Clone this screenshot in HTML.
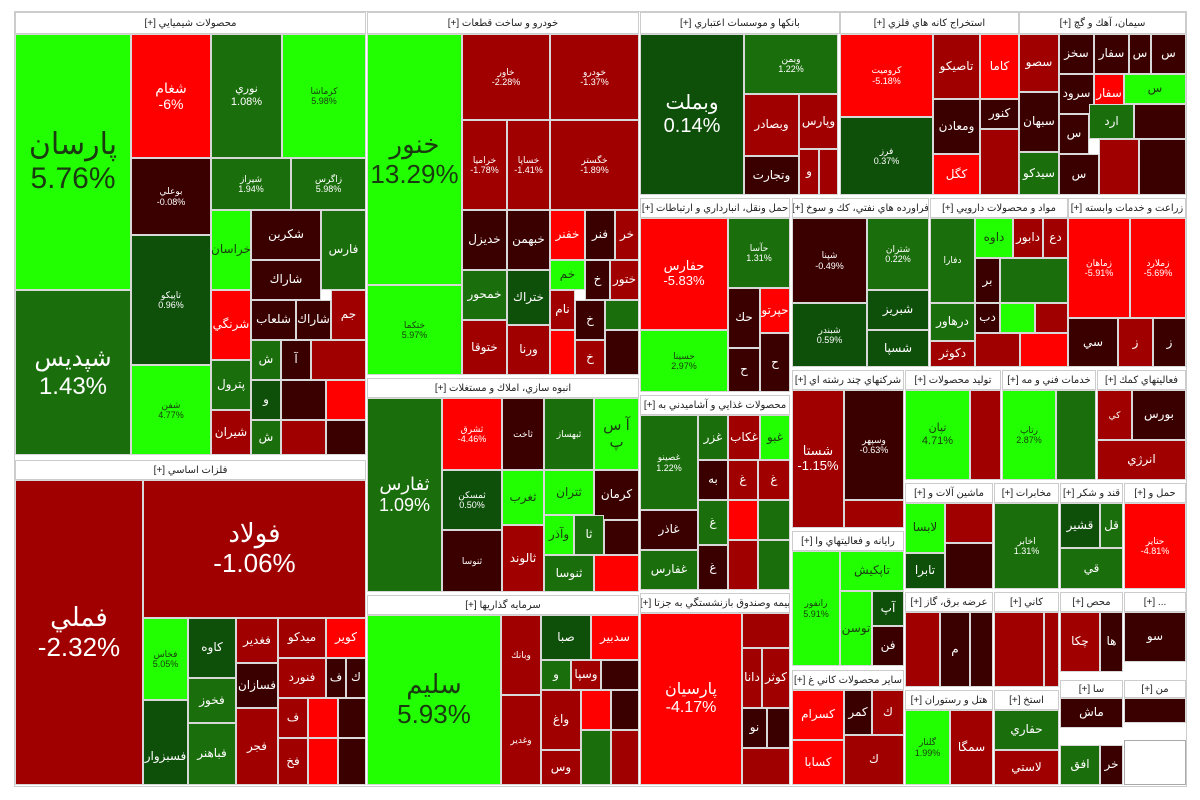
<!DOCTYPE html>
<html><head><meta charset="utf-8"><style>
body{margin:0;width:1200px;height:800px;background:#fff;position:relative;overflow:hidden;font-family:"Liberation Sans","DejaVu Sans",sans-serif}
div.t{position:absolute;box-sizing:border-box;border:1px solid #d8d8d8;display:flex;align-items:center;justify-content:center;text-align:center;color:#fff;font-size:12px;line-height:1.15;overflow:hidden;direction:ltr}
.h{position:absolute;box-sizing:border-box;border:1px solid #ccc;background:#fff;color:#222;font-size:10px;display:flex;align-items:center;justify-content:center;direction:rtl;overflow:hidden;white-space:nowrap}
div.g{background:#22ff00;color:#1a3a10}div.d{background:#1b6e0c}div.dd{background:#0e4f0a}div.r{background:#ff0000}div.k{background:#a00000}div.m{background:#3a0000}
div.L{font-size:28px}div.M{font-size:18px}div.S{font-size:9px}
</style></head><body>
<div style="position:absolute;left:14px;top:11px;width:1173px;height:776px;border:1px solid #ccc;box-sizing:border-box"></div>
<!-- Chemicals -->
<div class="h" style="left:15px;top:12px;width:351px;height:22px">محصولات شيميايي [+]</div>
<div class="t g L" style="left:15px;top:34px;width:116px;height:256px;font-size:30px">پارسان<br>5.76%</div>
<div class="t d L" style="left:15px;top:290px;width:116px;height:165px;font-size:24px">شپدیس<br>1.43%</div>
<div class="t r" style="left:131px;top:34px;width:80px;height:124px;font-size:14px">شغام<br>-6%</div>
<div class="t d" style="left:211px;top:34px;width:71px;height:124px;font-size:11px">نوري<br>1.08%</div>
<div class="t g S" style="left:282px;top:34px;width:84px;height:124px">كرماشا<br>5.98%</div>
<div class="t m S" style="left:131px;top:158px;width:80px;height:77px">بوعلي<br>-0.08%</div>
<div class="t d S" style="left:211px;top:158px;width:80px;height:52px">شيراز<br>1.94%</div>
<div class="t d S" style="left:291px;top:158px;width:75px;height:52px">زاگرس<br>5.98%</div>
<div class="t dd S" style="left:131px;top:235px;width:80px;height:130px">تاپيكو<br>0.96%</div>
<div class="t g S" style="left:131px;top:365px;width:80px;height:90px">شفن<br>4.77%</div>
<div class="t g" style="left:211px;top:210px;width:40px;height:80px">خراسان</div>
<div class="t m" style="left:251px;top:210px;width:70px;height:50px">شكربن</div>
<div class="t d" style="left:321px;top:210px;width:45px;height:80px">فارس</div>
<div class="t r" style="left:211px;top:290px;width:40px;height:70px">شرنگي</div>
<div class="t m" style="left:251px;top:260px;width:70px;height:40px">شاراك</div>
<div class="t m" style="left:251px;top:300px;width:45px;height:40px">شلعاب</div>
<div class="t m" style="left:296px;top:300px;width:35px;height:40px">شاراك</div>
<div class="t k" style="left:331px;top:290px;width:35px;height:50px">جم</div>
<div class="t d" style="left:211px;top:360px;width:40px;height:50px">پترول</div>
<div class="t k" style="left:211px;top:410px;width:40px;height:45px">شيران</div>
<div class="t d" style="left:251px;top:340px;width:30px;height:40px">ش</div>
<div class="t m" style="left:281px;top:340px;width:30px;height:40px">آ</div>
<div class="t k" style="left:311px;top:340px;width:55px;height:40px"></div>
<div class="t dd" style="left:251px;top:380px;width:30px;height:40px">و</div>
<div class="t m" style="left:281px;top:380px;width:45px;height:40px"></div>
<div class="t r" style="left:326px;top:380px;width:40px;height:40px"></div>
<div class="t d" style="left:251px;top:420px;width:30px;height:35px">ش</div>
<div class="t k" style="left:281px;top:420px;width:45px;height:35px"></div>
<div class="t m" style="left:326px;top:420px;width:40px;height:35px"></div>
<!-- Metals -->
<div class="h" style="left:15px;top:460px;width:351px;height:20px">فلزات اساسي [+]</div>
<div class="t k L" style="left:15px;top:480px;width:128px;height:305px;font-size:26px">فملي<br>-2.32%</div>
<div class="t k L" style="left:143px;top:480px;width:223px;height:138px;font-size:26px">فولاد<br>-1.06%</div>
<div class="t g S" style="left:143px;top:618px;width:45px;height:82px">فخاس<br>5.05%</div>
<div class="t dd" style="left:188px;top:618px;width:48px;height:60px">كاوه</div>
<div class="t d" style="left:188px;top:678px;width:48px;height:45px">فخوز</div>
<div class="t d" style="left:188px;top:723px;width:48px;height:62px">فباهنر</div>
<div class="t dd" style="left:143px;top:700px;width:45px;height:85px;align-items:flex-end;padding-bottom:20px">فسبزوار</div>
<div class="t k" style="left:236px;top:618px;width:42px;height:45px">فغدير</div>
<div class="t m" style="left:236px;top:663px;width:42px;height:45px">فسازان</div>
<div class="t k" style="left:236px;top:708px;width:42px;height:77px">فجر</div>
<div class="t k" style="left:278px;top:618px;width:48px;height:40px">ميدكو</div>
<div class="t r" style="left:326px;top:618px;width:40px;height:40px">كوير</div>
<div class="t k" style="left:278px;top:658px;width:48px;height:40px">فنورد</div>
<div class="t m" style="left:326px;top:658px;width:20px;height:40px">ف</div>
<div class="t m" style="left:346px;top:658px;width:20px;height:40px">ك</div>
<div class="t k" style="left:278px;top:698px;width:30px;height:40px">ف</div>
<div class="t r" style="left:308px;top:698px;width:30px;height:40px"></div>
<div class="t m" style="left:338px;top:698px;width:28px;height:40px"></div>
<div class="t k" style="left:278px;top:738px;width:30px;height:47px">فخ</div>
<div class="t r" style="left:308px;top:738px;width:30px;height:47px"></div>
<div class="t m" style="left:338px;top:738px;width:28px;height:47px"></div>
<!-- Auto -->
<div class="h" style="left:367px;top:12px;width:272px;height:22px">خودرو و ساخت قطعات [+]</div>
<div class="t g L" style="left:367px;top:34px;width:95px;height:251px;font-size:26px">خنور<br>13.29%</div>
<div class="t g S" style="left:367px;top:285px;width:95px;height:90px">ختكما<br>5.97%</div>
<div class="t k S" style="left:462px;top:34px;width:88px;height:86px">خاور<br>-2.28%</div>
<div class="t k S" style="left:550px;top:34px;width:89px;height:86px">خودرو<br>-1.37%</div>
<div class="t k S" style="left:462px;top:120px;width:45px;height:90px">خراميا<br>-1.78%</div>
<div class="t k S" style="left:507px;top:120px;width:43px;height:90px">خساپا<br>-1.41%</div>
<div class="t k S" style="left:550px;top:120px;width:89px;height:90px">خگستر<br>-1.89%</div>
<div class="t m" style="left:462px;top:210px;width:45px;height:60px">خديزل</div>
<div class="t m" style="left:507px;top:210px;width:43px;height:60px">خبهمن</div>
<div class="t r" style="left:550px;top:210px;width:35px;height:50px">خفنر</div>
<div class="t m" style="left:585px;top:210px;width:30px;height:50px">فنر</div>
<div class="t k" style="left:615px;top:210px;width:24px;height:50px">خر</div>
<div class="t d" style="left:462px;top:270px;width:45px;height:50px">خمحور</div>
<div class="t dd" style="left:507px;top:270px;width:43px;height:55px">ختراك</div>
<div class="t k" style="left:462px;top:320px;width:45px;height:55px">ختوقا</div>
<div class="t k" style="left:507px;top:325px;width:43px;height:50px">ورنا</div>
<div class="t g" style="left:550px;top:260px;width:35px;height:30px">خم</div>
<div class="t m" style="left:585px;top:260px;width:25px;height:40px">خ</div>
<div class="t k" style="left:610px;top:260px;width:29px;height:40px">ختور</div>
<div class="t k" style="left:550px;top:290px;width:25px;height:40px">نام</div>
<div class="t m" style="left:575px;top:300px;width:30px;height:40px">خ</div>
<div class="t d" style="left:605px;top:300px;width:34px;height:30px"></div>
<div class="t r" style="left:550px;top:330px;width:25px;height:45px"></div>
<div class="t k" style="left:575px;top:340px;width:30px;height:35px">خ</div>
<div class="t m" style="left:605px;top:330px;width:34px;height:45px"></div>
<!-- Construction -->
<div class="h" style="left:367px;top:378px;width:272px;height:20px">انبوه سازي، املاك و مستغلات [+]</div>
<div class="t d M" style="left:367px;top:398px;width:75px;height:194px">ثفارس<br>1.09%</div>
<div class="t r S" style="left:442px;top:398px;width:60px;height:72px">ثشرق<br>-4.46%</div>
<div class="t m S" style="left:502px;top:398px;width:42px;height:72px">ثاخت</div>
<div class="t d S" style="left:544px;top:398px;width:50px;height:72px">ثبهساز</div>
<div class="t g M" style="left:594px;top:398px;width:45px;height:72px;font-size:15px">آ س پ</div>
<div class="t dd S" style="left:442px;top:470px;width:60px;height:60px">ثمسكن<br>0.50%</div>
<div class="t m S" style="left:442px;top:530px;width:60px;height:62px">ثنوسا</div>
<div class="t g" style="left:502px;top:470px;width:42px;height:55px">ثغرب</div>
<div class="t k" style="left:502px;top:525px;width:42px;height:67px">ثالوند</div>
<div class="t g" style="left:544px;top:470px;width:50px;height:45px">ثتران</div>
<div class="t m" style="left:594px;top:470px;width:45px;height:50px">كرمان</div>
<div class="t g" style="left:544px;top:515px;width:30px;height:40px">وآذر</div>
<div class="t d" style="left:574px;top:515px;width:30px;height:40px">ثا</div>
<div class="t m" style="left:604px;top:520px;width:35px;height:35px"></div>
<div class="t d" style="left:544px;top:555px;width:50px;height:37px">ثنوسا</div>
<div class="t r" style="left:594px;top:555px;width:45px;height:37px"></div>
<!-- Investment -->
<div class="h" style="left:367px;top:595px;width:272px;height:20px">سرمايه گذاريها [+]</div>
<div class="t g L" style="left:367px;top:615px;width:134px;height:170px;font-size:26px">سليم<br>5.93%</div>
<div class="t k S" style="left:501px;top:615px;width:40px;height:80px">وبانك</div>
<div class="t dd" style="left:541px;top:615px;width:50px;height:45px">صبا</div>
<div class="t r" style="left:591px;top:615px;width:48px;height:45px">سدبير</div>
<div class="t d" style="left:541px;top:660px;width:30px;height:30px">و</div>
<div class="t k" style="left:571px;top:660px;width:30px;height:30px">وسپا</div>
<div class="t m" style="left:601px;top:660px;width:38px;height:30px"></div>
<div class="t k S" style="left:501px;top:695px;width:40px;height:90px">وغدير</div>
<div class="t k" style="left:541px;top:690px;width:40px;height:60px">واغ</div>
<div class="t r" style="left:581px;top:690px;width:30px;height:40px"></div>
<div class="t m" style="left:611px;top:690px;width:28px;height:40px"></div>
<div class="t k" style="left:541px;top:750px;width:40px;height:35px">وس</div>
<div class="t d" style="left:581px;top:730px;width:30px;height:55px"></div>
<div class="t k" style="left:611px;top:730px;width:28px;height:55px"></div>
<!-- Banks -->
<div class="h" style="left:640px;top:12px;width:200px;height:22px">بانكها و موسسات اعتباري [+]</div>
<div class="t dd L" style="left:640px;top:34px;width:104px;height:161px;font-size:20px">وبملت<br>0.14%</div>
<div class="t d S" style="left:744px;top:34px;width:94px;height:60px">وبمن<br>1.22%</div>
<div class="t k" style="left:744px;top:94px;width:55px;height:62px">وبصادر</div>
<div class="t k" style="left:799px;top:94px;width:39px;height:55px">وپارس</div>
<div class="t m" style="left:744px;top:156px;width:55px;height:39px">وتجارت</div>
<div class="t k" style="left:799px;top:149px;width:20px;height:46px">و</div>
<div class="t k" style="left:819px;top:149px;width:19px;height:46px"></div>
<!-- Mining -->
<div class="h" style="left:840px;top:12px;width:179px;height:22px">استخراج كانه هاي فلزي [+]</div>
<div class="t r S" style="left:840px;top:34px;width:93px;height:83px">كروميت<br>-5.18%</div>
<div class="t dd S" style="left:840px;top:117px;width:93px;height:78px">فرز<br>0.37%</div>
<div class="t k" style="left:933px;top:34px;width:47px;height:65px">تاصيكو</div>
<div class="t r" style="left:980px;top:34px;width:39px;height:65px">كاما</div>
<div class="t m" style="left:933px;top:99px;width:47px;height:55px">ومعادن</div>
<div class="t m" style="left:980px;top:99px;width:39px;height:30px">كنور</div>
<div class="t r" style="left:933px;top:154px;width:47px;height:41px">كگل</div>
<div class="t k" style="left:980px;top:129px;width:39px;height:66px"></div>
<!-- Cement -->
<div class="h" style="left:1019px;top:12px;width:167px;height:22px">سيمان، آهك و گچ [+]</div>
<div class="t k" style="left:1019px;top:34px;width:40px;height:58px">سصو</div>
<div class="t m" style="left:1059px;top:34px;width:35px;height:40px">سخز</div>
<div class="t m" style="left:1094px;top:34px;width:35px;height:40px">سفار</div>
<div class="t m" style="left:1129px;top:34px;width:22px;height:40px">س</div>
<div class="t m" style="left:1151px;top:34px;width:35px;height:40px">س</div>
<div class="t m" style="left:1019px;top:92px;width:40px;height:60px">سبهان</div>
<div class="t d" style="left:1019px;top:152px;width:40px;height:43px">سيدكو</div>
<div class="t m" style="left:1059px;top:74px;width:35px;height:40px">سرود</div>
<div class="t r" style="left:1094px;top:74px;width:30px;height:40px">سفار</div>
<div class="t g" style="left:1124px;top:74px;width:62px;height:30px">س</div>
<div class="t m" style="left:1059px;top:114px;width:30px;height:40px">س</div>
<div class="t d" style="left:1089px;top:104px;width:45px;height:35px">ارد</div>
<div class="t m" style="left:1134px;top:104px;width:52px;height:35px"></div>
<div class="t m" style="left:1059px;top:154px;width:40px;height:41px">س</div>
<div class="t k" style="left:1099px;top:139px;width:40px;height:56px"></div>
<div class="t m" style="left:1139px;top:139px;width:47px;height:56px"></div>
<!-- Transport -->
<div class="h" style="left:640px;top:198px;width:150px;height:20px">حمل ونقل، انبارداري و ارتباطات [+]</div>
<div class="t r" style="left:640px;top:218px;width:88px;height:112px;font-size:13px">حفارس<br>-5.83%</div>
<div class="t g S" style="left:640px;top:330px;width:88px;height:62px">حسينا<br>2.97%</div>
<div class="t d S" style="left:728px;top:218px;width:62px;height:70px">حآسا<br>1.31%</div>
<div class="t m" style="left:728px;top:288px;width:32px;height:60px">حك</div>
<div class="t r" style="left:760px;top:288px;width:30px;height:45px">حپرتو</div>
<div class="t m" style="left:728px;top:348px;width:32px;height:44px">ح</div>
<div class="t m" style="left:760px;top:333px;width:30px;height:59px">ح</div>
<!-- Oil -->
<div class="h" style="left:792px;top:198px;width:137px;height:20px">فراورده هاي نفتي، كك و سوخ [+]</div>
<div class="t m S" style="left:792px;top:218px;width:75px;height:85px">شپنا<br>-0.49%</div>
<div class="t dd S" style="left:792px;top:303px;width:75px;height:64px">شبندر<br>0.59%</div>
<div class="t d S" style="left:867px;top:218px;width:62px;height:72px">شتران<br>0.22%</div>
<div class="t dd" style="left:867px;top:290px;width:62px;height:40px">شبريز</div>
<div class="t dd" style="left:867px;top:330px;width:62px;height:37px">شسپا</div>
<!-- Pharma -->
<div class="h" style="left:930px;top:198px;width:138px;height:20px">مواد و محصولات دارويي [+]</div>
<div class="t d S" style="left:930px;top:218px;width:45px;height:85px">دفارا</div>
<div class="t g" style="left:975px;top:218px;width:38px;height:40px">داوه</div>
<div class="t k" style="left:1013px;top:218px;width:30px;height:40px">دابور</div>
<div class="t k" style="left:1043px;top:218px;width:25px;height:40px">دع</div>
<div class="t m" style="left:975px;top:258px;width:25px;height:45px">بر</div>
<div class="t d" style="left:1000px;top:258px;width:68px;height:45px"></div>
<div class="t d" style="left:930px;top:303px;width:45px;height:38px">درهاور</div>
<div class="t k" style="left:930px;top:341px;width:45px;height:26px">دكوثر</div>
<div class="t m" style="left:975px;top:303px;width:25px;height:30px">دب</div>
<div class="t g" style="left:1000px;top:303px;width:35px;height:30px"></div>
<div class="t k" style="left:1035px;top:303px;width:33px;height:30px"></div>
<div class="t k" style="left:975px;top:333px;width:45px;height:34px"></div>
<div class="t r" style="left:1020px;top:333px;width:48px;height:34px"></div>
<!-- Agri -->
<div class="h" style="left:1068px;top:198px;width:118px;height:20px">زراعت و خدمات وابسته [+]</div>
<div class="t r S" style="left:1068px;top:218px;width:62px;height:100px">زماهان<br>-5.91%</div>
<div class="t r S" style="left:1130px;top:218px;width:56px;height:100px">زملارد<br>-5.69%</div>
<div class="t m" style="left:1068px;top:318px;width:50px;height:49px">سي</div>
<div class="t k" style="left:1118px;top:318px;width:35px;height:49px">ز</div>
<div class="t m" style="left:1153px;top:318px;width:33px;height:49px">ز</div>
<!-- Food -->
<div class="h" style="left:640px;top:395px;width:150px;height:20px">محصولات غذايي و آشاميدني به [+]</div>
<div class="t d S" style="left:640px;top:415px;width:58px;height:95px">غصينو<br>1.22%</div>
<div class="t m" style="left:640px;top:510px;width:58px;height:40px">غاذر</div>
<div class="t d" style="left:640px;top:550px;width:58px;height:40px">غفارس</div>
<div class="t d" style="left:698px;top:415px;width:30px;height:45px">غزر</div>
<div class="t k" style="left:728px;top:415px;width:32px;height:45px">غكاب</div>
<div class="t g" style="left:760px;top:415px;width:30px;height:45px">غبو</div>
<div class="t m" style="left:698px;top:460px;width:30px;height:40px">به</div>
<div class="t k" style="left:728px;top:460px;width:30px;height:40px">غ</div>
<div class="t k" style="left:758px;top:460px;width:32px;height:40px">غ</div>
<div class="t d" style="left:698px;top:500px;width:30px;height:45px">غ</div>
<div class="t r" style="left:728px;top:500px;width:30px;height:40px"></div>
<div class="t d" style="left:758px;top:500px;width:32px;height:40px"></div>
<div class="t m" style="left:698px;top:545px;width:30px;height:45px">غ</div>
<div class="t k" style="left:728px;top:540px;width:30px;height:50px"></div>
<div class="t d" style="left:758px;top:540px;width:32px;height:50px"></div>
<!-- Insurance -->
<div class="h" style="left:640px;top:593px;width:150px;height:20px">بيمه وصندوق بازنشستگي به جزتا [+]</div>
<div class="t r M" style="left:640px;top:613px;width:102px;height:172px;font-size:16px">پارسيان<br>-4.17%</div>
<div class="t k" style="left:742px;top:613px;width:48px;height:35px"></div>
<div class="t k" style="left:742px;top:648px;width:20px;height:60px">دانا</div>
<div class="t k" style="left:762px;top:648px;width:28px;height:60px">كوثر</div>
<div class="t m" style="left:742px;top:708px;width:25px;height:40px">نو</div>
<div class="t m" style="left:767px;top:708px;width:23px;height:40px"></div>
<div class="t k" style="left:742px;top:748px;width:48px;height:37px"></div>
<!-- Multi -->
<div class="h" style="left:792px;top:370px;width:112px;height:20px">شركتهاي چند رشته اي [+]</div>
<div class="t k" style="left:792px;top:390px;width:52px;height:138px;font-size:13px">شستا<br>-1.15%</div>
<div class="t m S" style="left:844px;top:390px;width:60px;height:110px">وسپهر<br>-0.63%</div>
<div class="t k" style="left:844px;top:500px;width:60px;height:28px"></div>
<div class="h" style="left:905px;top:370px;width:96px;height:20px">توليد محصولات [+]</div>
<div class="t g" style="left:905px;top:390px;width:65px;height:90px;font-size:11px">تپان<br>4.71%</div>
<div class="t k" style="left:970px;top:390px;width:31px;height:90px"></div>
<div class="h" style="left:1002px;top:370px;width:94px;height:20px">خدمات فني و مه [+]</div>
<div class="t g S" style="left:1002px;top:390px;width:54px;height:90px">رتاپ<br>2.87%</div>
<div class="t d S" style="left:1056px;top:390px;width:40px;height:90px"></div>
<div class="h" style="left:1097px;top:370px;width:89px;height:20px">فعاليتهاي كمك [+]</div>
<div class="t k S" style="left:1097px;top:390px;width:35px;height:50px">كي</div>
<div class="t m" style="left:1132px;top:390px;width:54px;height:50px">بورس</div>
<div class="t k" style="left:1097px;top:440px;width:89px;height:40px">انرژي</div>
<!-- row 3 right -->
<div class="h" style="left:905px;top:483px;width:88px;height:20px">ماشين آلات و [+]</div>
<div class="t g" style="left:905px;top:503px;width:40px;height:50px">لابسا</div>
<div class="t dd" style="left:905px;top:553px;width:40px;height:36px">تابرا</div>
<div class="t k" style="left:945px;top:503px;width:48px;height:40px"></div>
<div class="t m" style="left:945px;top:543px;width:48px;height:46px"></div>
<div class="h" style="left:994px;top:483px;width:65px;height:20px">مخابرات [+]</div>
<div class="t d S" style="left:994px;top:503px;width:65px;height:86px">اخابر<br>1.31%</div>
<div class="h" style="left:1060px;top:483px;width:63px;height:20px">قند و شكر [+]</div>
<div class="t dd" style="left:1060px;top:503px;width:40px;height:45px">قشير</div>
<div class="t d" style="left:1100px;top:503px;width:23px;height:45px">قل</div>
<div class="t d" style="left:1060px;top:548px;width:63px;height:41px">قي</div>
<div class="h" style="left:1124px;top:483px;width:62px;height:20px">حمل و [+]</div>
<div class="t r S" style="left:1124px;top:503px;width:62px;height:86px">حتاير<br>-4.81%</div>
<div class="h" style="left:792px;top:531px;width:112px;height:20px">رايانه و فعاليتهاي وا [+]</div>
<div class="t g S" style="left:792px;top:551px;width:48px;height:115px">رانفور<br>5.91%</div>
<div class="t g" style="left:840px;top:551px;width:64px;height:40px">تاپكيش</div>
<div class="t g" style="left:840px;top:591px;width:32px;height:75px">توسن</div>
<div class="t dd" style="left:872px;top:591px;width:32px;height:35px">آپ</div>
<div class="t m" style="left:872px;top:626px;width:32px;height:40px">فن</div>
<div class="h" style="left:905px;top:592px;width:88px;height:20px">عرضه برق، گاز [+]</div>
<div class="t k" style="left:905px;top:612px;width:35px;height:75px"></div>
<div class="t m" style="left:940px;top:612px;width:30px;height:75px">م</div>
<div class="t m" style="left:970px;top:612px;width:23px;height:75px"></div>
<div class="h" style="left:994px;top:592px;width:65px;height:20px">كاني [+]</div>
<div class="t k S" style="left:994px;top:612px;width:50px;height:75px"></div>
<div class="t k" style="left:1044px;top:612px;width:15px;height:75px"></div>
<div class="h" style="left:1060px;top:592px;width:63px;height:20px">محص [+]</div>
<div class="t k" style="left:1060px;top:612px;width:40px;height:60px">چكا</div>
<div class="t m" style="left:1100px;top:612px;width:23px;height:60px">ها</div>
<div class="h" style="left:1124px;top:592px;width:62px;height:20px">... [+]</div>
<div class="t m" style="left:1124px;top:612px;width:62px;height:50px">سو</div>
<div class="h" style="left:792px;top:670px;width:112px;height:20px">ساير محصولات كاني غ [+]</div>
<div class="t r" style="left:792px;top:690px;width:52px;height:50px">كسرام</div>
<div class="t r" style="left:792px;top:740px;width:52px;height:45px">كسابا</div>
<div class="t m" style="left:844px;top:690px;width:28px;height:45px">كمر</div>
<div class="t k" style="left:872px;top:690px;width:32px;height:45px">ك</div>
<div class="t k" style="left:844px;top:735px;width:60px;height:50px">ك</div>
<div class="h" style="left:905px;top:690px;width:88px;height:20px">هتل و رستوران [+]</div>
<div class="t g S" style="left:905px;top:710px;width:45px;height:75px">گلنار<br>1.99%</div>
<div class="t k" style="left:950px;top:710px;width:43px;height:75px">سمگا</div>
<div class="h" style="left:994px;top:690px;width:65px;height:20px">استخ [+]</div>
<div class="t d" style="left:994px;top:710px;width:65px;height:40px">حفاري</div>
<div class="t k" style="left:994px;top:750px;width:65px;height:35px">لاستي</div>
<div class="h" style="left:1060px;top:680px;width:63px;height:18px">سا [+]</div>
<div class="t m" style="left:1060px;top:698px;width:63px;height:30px">ماش</div>
<div class="t d" style="left:1060px;top:745px;width:40px;height:40px">افق</div>
<div class="t m" style="left:1100px;top:745px;width:23px;height:40px">خر</div>
<div class="h" style="left:1124px;top:680px;width:62px;height:18px">من [+]</div>
<div class="t m" style="left:1124px;top:698px;width:62px;height:25px"></div>
<div class="t" style="left:1124px;top:740px;width:62px;height:45px;background:#fff;border-color:#aaa"></div>
</body></html>
